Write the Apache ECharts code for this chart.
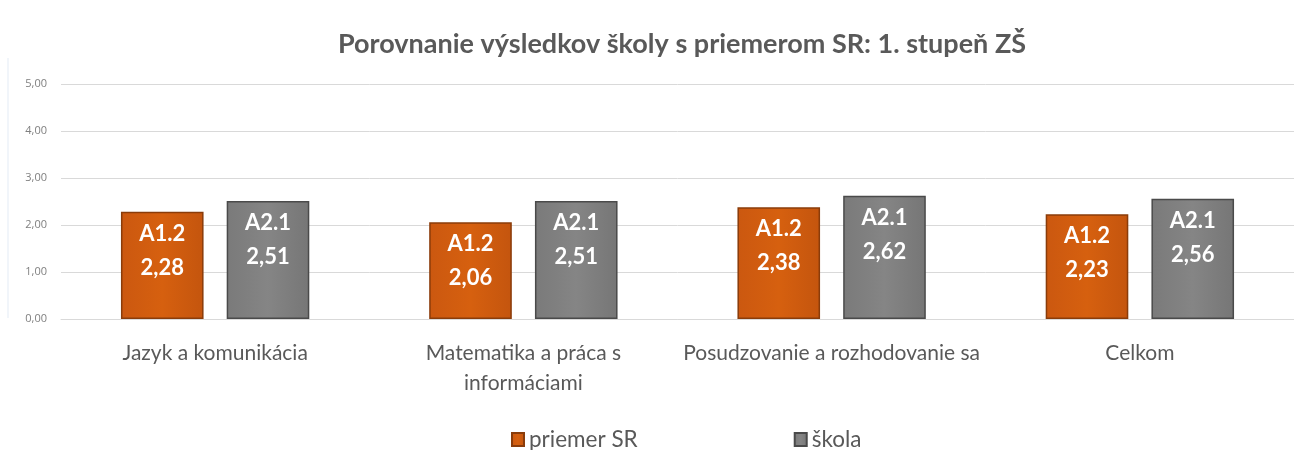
<!DOCTYPE html>
<html>
<head>
<meta charset="utf-8">
<script src="https://cdn.jsdelivr.net/npm/echarts@6/dist/echarts.min.js"></script>
<style>
  html, body { margin: 0; padding: 0; background: #fff; }
  #chart { width: 1294px; height: 450px; }
</style>
</head>
<body>
<div id="chart"></div>
<script>
const categories = ['Jazyk a komunikácia', 'Matematika a práca s\ninformáciami', 'Posudzovanie a rozhodovanie sa', 'Celkom']
const priemerSR = [2.28, 2.06, 2.38, 2.23]
const skola = [2.51, 2.51, 2.62, 2.56]
const priemerLevels = ['A1.2', 'A1.2', 'A1.2', 'A1.2']
const skolaLevels = ['A2.1', 'A2.1', 'A2.1', 'A2.1']

const fmt = v => v.toFixed(2).replace('.', ',')

function barLabel(levels) {
  return {
    show: true,
    position: 'insideTop',
    distance: 5,
    color: '#fff',
    fontFamily: 'Lato',
    fontWeight: 'bold',
    fontSize: 22,
    lineHeight: 34,
    formatter: p => levels[p.dataIndex] + '\n' + fmt(p.value)
  }
}

let chart = echarts.init(document.getElementById('chart'))
chart.setOption({
  animation: false,
  title: {
    text: 'Porovnanie výsledkov školy s priemerom SR: 1. stupeň ZŠ',
    left: 333,
    top: 26,
    textStyle: { fontFamily: 'Lato', fontSize: 27, fontWeight: 'bold', color: '#595959' }
  },
  legend: {
    top: 423,
    left: 506,
    itemWidth: 12,
    itemHeight: 13,
    itemGap: 156,
    icon: 'rect',
    textStyle: { fontFamily: 'Lato', fontSize: 22.5, color: '#595959' },
    data: ['priemer SR', 'škola']
  },
  // plot area of the source runs past the right edge of the picture
  grid: { left: 61, width: 1272, top: 84, bottom: 131 },
  xAxis: {
    type: 'category',
    data: categories,
    axisLine: { lineStyle: { color: '#d9d9d9' } },
    axisTick: { show: false },
    axisLabel: {
      interval: 0,
      fontFamily: 'Lato', fontSize: 21, color: '#595959',
      margin: 19, lineHeight: 30
    }
  },
  yAxis: {
    type: 'value',
    min: 0,
    max: 5,
    interval: 1,
    axisLabel: {
      fontFamily: 'Open Sans', fontSize: 11, color: '#7f7f7f', margin: 14,
      formatter: v => fmt(v)
    },
    splitLine: { lineStyle: { color: '#d9d9d9' } }
  },
  graphic: [{
    type: 'line',
    shape: { x1: 8, y1: 58, x2: 8, y2: 318 },
    style: { stroke: '#e3ebf5', lineWidth: 1 }
  }],
  series: [
    {
      name: 'priemer SR',
      type: 'bar',
      data: priemerSR,
      barWidth: '26.8%',
      barGap: '28%',
      itemStyle: {
        color: new echarts.graphic.LinearGradient(0, 0, 1, 0, [
          { offset: 0, color: '#cb5810' },
          { offset: 0.5, color: '#d6600f' },
          { offset: 1, color: '#c4550e' }
        ]),
        borderColor: '#8a3c0a',
        borderWidth: 1.5
      },
      label: barLabel(priemerLevels)
    },
    {
      name: 'škola',
      type: 'bar',
      data: skola,
      barWidth: '26.8%',
      itemStyle: {
        color: new echarts.graphic.LinearGradient(0, 0, 1, 0, [
          { offset: 0, color: '#7a7a7a' },
          { offset: 0.5, color: '#858585' },
          { offset: 1, color: '#767676' }
        ]),
        borderColor: '#4a4a4a',
        borderWidth: 1.5
      },
      label: barLabel(skolaLevels)
    }
  ]
})
</script>
</body>
</html>
